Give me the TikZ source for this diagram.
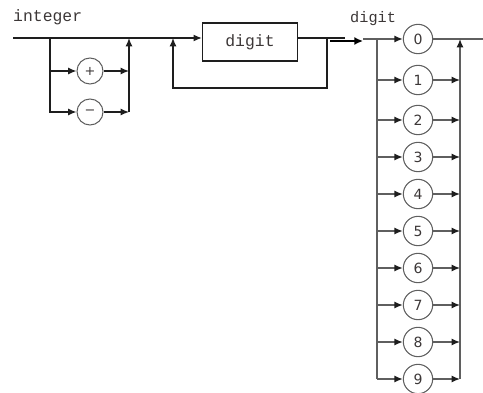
\documentclass[tikz,border=0pt]{standalone}
\usepackage{fontspec}
\setmonofont{Liberation Mono}
\newfontfamily\dejavu{DejaVu Sans}
\usepackage{tikz}
\usetikzlibrary{arrows.meta, calc}
\usepackage{xcolor}
\definecolor{synblack}{RGB}{30, 30, 30}
\definecolor{syngray}{RGB}{95, 95, 95}
\definecolor{syntext}{RGB}{60, 55, 55}

\begin{document}
\begin{tikzpicture}[
  x=0.03cm, y=-0.03cm,
  line/.style={draw=synblack, line width=1.1pt},
  arr/.style={line, -{Latex[length=2.5mm, width=2.1mm]}},
  rline/.style={draw=syngray, line width=1.2pt},
  rarr/.style={rline, -{Latex[length=2.5mm, width=2.1mm, color=synblack]}},
  jump/.style={draw=black, line width=2.4pt, -{Latex[length=2.6mm, width=2.4mm]}},
  sign/.style={circle, draw=syngray, line width=0.9pt, minimum size=0.78cm, inner sep=0pt,
               text=syntext, font=\dejavu\fontsize{11}{12}\selectfont},
  num/.style={circle, draw=syngray, line width=0.9pt, minimum size=0.88cm, inner sep=0pt,
              text=syntext, font=\dejavu\fontsize{12}{14}\selectfont},
  rulebox/.style={draw=synblack, line width=1.1pt, minimum width=2.85cm, minimum height=1.14cm,
                  text=syntext, font=\ttfamily\fontsize{14}{16}\selectfont},
  lbl/.style={anchor=west, inner sep=0pt, text=syntext, font=\ttfamily\fontsize{14}{16}\selectfont}
]
  \useasboundingbox (0,0) rectangle (483,392);

  % integer
  \node[lbl] (integer) at (13,17) {integer};
  \coordinate (start) at (13,38);
  \coordinate (split) at (50,38);
  \coordinate (join) at (129,38);
  \coordinate (loopin) at (173,38);
  \coordinate (loopcorner) at (173,88);
  \coordinate (loopout) at (327,38);
  \coordinate (leftend) at (345,38);

  \node[rulebox] (digitbox) at (250,42) {digit};
  \node[sign] (plus) at (90,71) {+};
  \node[sign] (minus) at (90,112) {−};

  \draw[arr] (start) -- (digitbox.west |- start);
  \draw[arr] (split) |- (minus.west);
  \draw[arr] (split |- plus) -- (plus.west);
  \draw[arr] (plus) -- (plus -| join);
  \draw[arr] (minus) -- (minus -| join);
  \draw[arr] (minus -| join) -- (join);
  \draw[line] (digitbox.east |- start) -- (leftend);
  \draw[arr] (loopout) |- (loopcorner) -- (loopin);

  % link to digit
  \coordinate (jumpfrom) at (330,41);
  \coordinate (jumpto) at (363,41);
  \draw[jump] (jumpfrom) -- (jumpto);

  % digit
  \node[lbl, font=\ttfamily\fontsize{13}{15}\selectfont] (digitlabel) at (350,19) {digit};
  \coordinate (rstart) at (363,39);
  \coordinate (rsplit) at (377,39);
  \coordinate (rjoin) at (460,39);
  \coordinate (rend) at (483,39);

  \node[num] (d0) at (418,39) {0};
  \node[num] (d1) at (418,80) {1};
  \node[num] (d2) at (418,120) {2};
  \node[num] (d3) at (418,157) {3};
  \node[num] (d4) at (418,194) {4};
  \node[num] (d5) at (418,231) {5};
  \node[num] (d6) at (418,268) {6};
  \node[num] (d7) at (418,305) {7};
  \node[num] (d8) at (418,342) {8};
  \node[num] (d9) at (418,379) {9};

  \draw[rline] (rstart) -- (rsplit);
  \draw[rline] (rsplit) -- (rsplit |- d9);
  \draw[rarr] (rsplit) -- (d0);
  \draw[rline] (d0) -- (rend);
  \draw[rarr] (rjoin |- d9) -- (rjoin);

  \draw[rarr] (rsplit |- d1) -- (d1);
  \draw[rarr] (d1) -- (rjoin |- d1);
  \draw[rarr] (rsplit |- d2) -- (d2);
  \draw[rarr] (d2) -- (rjoin |- d2);
  \draw[rarr] (rsplit |- d3) -- (d3);
  \draw[rarr] (d3) -- (rjoin |- d3);
  \draw[rarr] (rsplit |- d4) -- (d4);
  \draw[rarr] (d4) -- (rjoin |- d4);
  \draw[rarr] (rsplit |- d5) -- (d5);
  \draw[rarr] (d5) -- (rjoin |- d5);
  \draw[rarr] (rsplit |- d6) -- (d6);
  \draw[rarr] (d6) -- (rjoin |- d6);
  \draw[rarr] (rsplit |- d7) -- (d7);
  \draw[rarr] (d7) -- (rjoin |- d7);
  \draw[rarr] (rsplit |- d8) -- (d8);
  \draw[rarr] (d8) -- (rjoin |- d8);
  \draw[rarr] (rsplit |- d9) -- (d9);
  \draw[rarr] (d9) -- (rjoin |- d9);
\end{tikzpicture}
\end{document}
